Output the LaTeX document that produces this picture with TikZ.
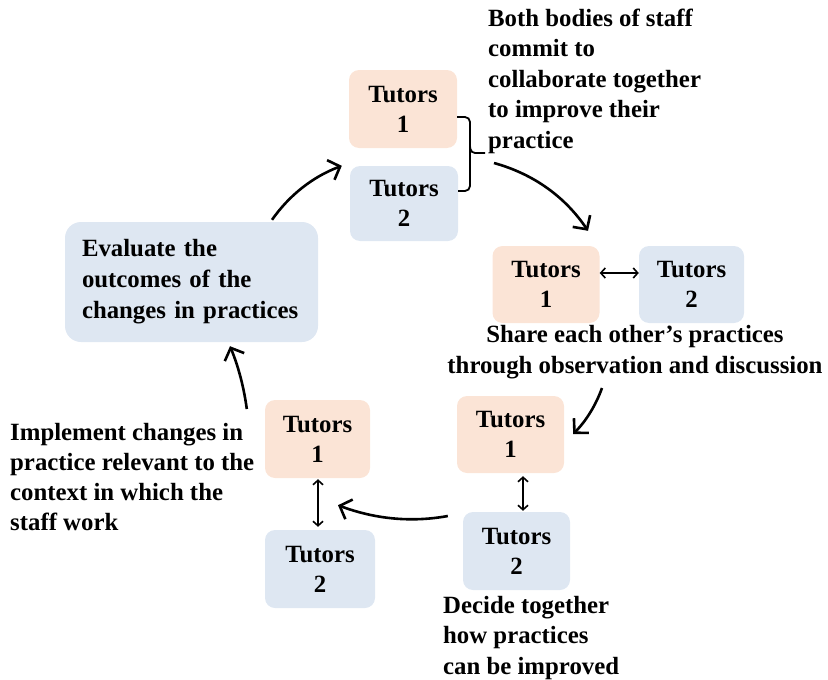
\documentclass[tikz,border=0pt]{standalone}
\usepackage{fontspec}
\setmainfont{Liberation Serif}
\usetikzlibrary{arrows.meta}
\definecolor{peach}{HTML}{FBE4D6}
\definecolor{lblue}{HTML}{DEE7F2}
\begin{document}
\begin{tikzpicture}[x=1pt,y=-1pt,
  txt/.style={inner sep=0pt, font=\bfseries\fontsize{24.8}{30.5}\selectfont},
  tbox/.style={txt, rounded corners=10pt, minimum width=107pt, minimum height=77pt, align=center, font=\bfseries\fontsize{24.8}{30}\selectfont},
  pbox/.style={tbox, fill=peach},
  bbox/.style={tbox, fill=lblue},
  cyc/.style={line width=2.6pt, -{Straight Barb[length=10pt,width=21pt,line width=2.6pt]}},
  dbl/.style={line width=1.6pt, {Straight Barb[length=4.5pt,width=10pt]}-{Straight Barb[length=4.5pt,width=10pt]}}
]
\useasboundingbox (0,0) rectangle (828,680);
% boxes
\node[pbox, minimum height=78pt, minimum width=108pt] (t1a) at (403,109) {Tutors\\1};
\node[bbox, minimum height=75pt, minimum width=108pt] (t2a) at (404,203.5) {Tutors\\2};
\node[pbox] (r1) at (546,284.5) {Tutors\\1};
\node[bbox, minimum width=105pt] (r2) at (691.5,284.5) {Tutors\\2};
\node[pbox] (m1) at (510.5,434.5) {Tutors\\1};
\node[bbox, minimum height=78pt] (m2) at (516.5,551) {Tutors\\2};
\node[pbox, minimum width=105pt, minimum height=78pt] (l1) at (317.5,439) {Tutors\\1};
\node[bbox, minimum width=110pt, minimum height=78pt] (l2) at (320,569) {Tutors\\2};
\node[txt, fill=lblue, rounded corners=16pt, minimum width=253pt, minimum height=120pt,
      text width=219pt, inner xsep=17pt, align=left, font=\bfseries\fontsize{24.8}{31}\selectfont] (eval) at (191.5,282)
  {Evaluate the\\outcomes of the\\changes in practices};
% texts
\node[txt, anchor=west, align=left] (commit) at (488,81)
  {Both bodies of staff\\commit to\\collaborate together\\to improve their\\practice};
\node[txt, align=center, font=\bfseries\fontsize{24.8}{31}\selectfont] (share) at (635,352.5)
  {Share each other’s practices\\through observation and discussion};
\node[txt, anchor=west, align=left] (decide) at (443,638)
  {Decide together\\how practices\\can be improved};
\node[txt, anchor=west, align=left, font=\bfseries\fontsize{24.8}{30}\selectfont] (impl) at (10,477)
  {Implement changes in\\practice relevant to the\\context in which the\\staff work};
% brace
\coordinate (bracetip) at (485,153);
\draw[line width=1.8pt, rounded corners=5pt] ([shift={(0,8)}]t1a.east) -- (470,117) -- (470,191) -- ([shift={(0,-12.5)}]t2a.east);
\draw[line width=1.8pt, rounded corners=4pt] (470,146) -- (471,153) -- (bracetip);
% double arrows
\draw[dbl] ([shift={(0,-11.5)}]r1.east) -- ([shift={(0,-11.5)}]r2.west);
\draw[dbl] ([shift={(12.5,3)}]m1.south) -- ([shift={(6.5,-1)}]m2.north);
\draw[dbl] ([shift={(0.5,1)}]l1.south) -- ([shift={(-2,-3)}]l2.north);
% cycle arrows
\coordinate (a3s) at (602,388);
\draw[cyc] ([shift={(80.5,-2)}]eval.north) .. controls (289.7,194.7) and (313,176.7) .. ([shift={(-8,0)}]t2a.north west);
\draw[cyc] ([shift={(9,10)}]bracetip) .. controls (534,174.1) and (565.3,197.1) .. ([shift={(42,-15)}]r1.north);
\draw[cyc] (a3s) .. controls (595.7,405.5) and (586.1,420.8) .. ([shift={(9,-0.5)}]m1.east);
\draw[cyc] ([shift={(-15,-35)}]m2.west) .. controls (411.3,522.7) and (374.7,519) .. ([shift={(20.5,27)}]l1.south);
\draw[cyc] ([shift={(-18,-30)}]l1.west) .. controls (243.9,387.3) and (238.3,366.3) .. ([shift={(38.5,4)}]eval.south);
\end{tikzpicture}
\end{document}
